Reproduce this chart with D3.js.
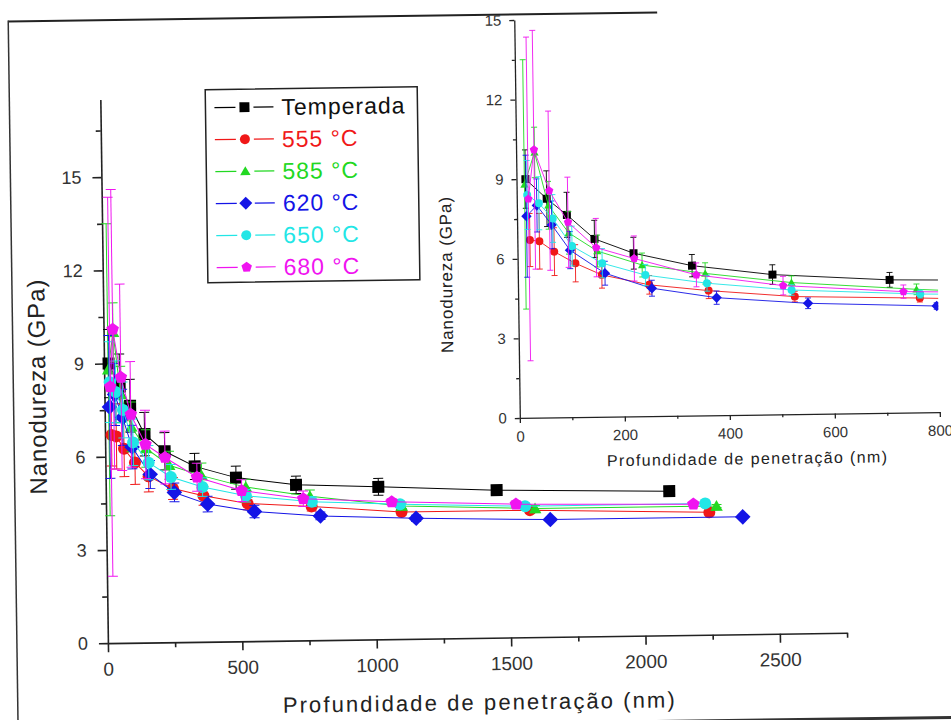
<!DOCTYPE html>
<html><head><meta charset="utf-8">
<script src="https://cdn.jsdelivr.net/npm/d3@7"></script>
<style>
body{margin:0;background:#fff}
svg{display:block}
text{font-family:"Liberation Sans",Arial,sans-serif}
</style>
</head><body>
<svg id="c" width="951" height="720"></svg>
<script>
// ---------- data ----------
const seriesNames = ["Temperada", "555 °C", "585 °C", "620 °C", "650 °C", "680 °C"];
const seriesColors = ["#000000", "#f01818", "#22d822", "#1414e6", "#22e6e6", "#f014f0"];
const seriesSymbols = ["square", "circle", "triangle", "diamond", "circle", "pentagon"];

const xTemperada = [17, 57, 95, 147, 221, 332, 485, 708, 1014, 1454, 2096];
const yTemperada = [9.0, 8.25, 7.63, 6.71, 6.15, 5.65, 5.27, 5.01, 4.91, 4.75, 4.64];
const eTemperada = [1.1, 1.05, 0.85, 0.7, 0.6, 0.42, 0.37, 0.28, 0.27, 0.15, 0.05];

const x555 = [24, 42, 70, 110, 160, 250, 363, 527, 765, 1099, 1577, 2244];
const y555 = [6.7, 6.65, 6.25, 5.8, 5.35, 4.95, 4.7, 4.43, 4.31, 4.09, 4.09, 3.94];
const e555 = [1.0, 1.05, 0.9, 0.7, 0.5, 0.35, 0.3, 0.2, 0.15, 0.1, 0.1, 0.05];

const x585 = [15, 35, 60, 98, 152, 237, 357, 521, 759, 1100, 1596, 2271];
const y585 = [8.8, 10.0, 8.0, 6.95, 6.25, 5.7, 5.35, 4.96, 4.64, 4.28, 4.14, 4.14];
const e585 = [4.7, 0.95, 0.9, 0.8, 0.6, 0.45, 0.4, 0.25, 0.2, 0.1, 0.1, 0.05];

const x620 = [18, 38, 66, 100, 166, 255, 378, 552, 797, 1153, 1652, 2368];
const y620 = [7.6, 8.0, 7.26, 6.3, 5.41, 4.82, 4.43, 4.17, 4.0, 3.88, 3.78, 3.78];
const e620 = [2.3, 1.0, 0.9, 0.7, 0.45, 0.3, 0.25, 0.2, 0.12, 0.1, 0.05, 0.05];

const x650 = [20, 42, 68, 104, 161, 243, 360, 521, 766, 1094, 1559, 2229];
const y650 = [8.4, 8.08, 7.5, 6.45, 5.79, 5.32, 4.98, 4.68, 4.46, 4.34, 4.22, 4.23];
const e650 = [1.3, 1.0, 0.9, 0.75, 0.55, 0.4, 0.3, 0.2, 0.15, 0.1, 0.1, 0.05];

const x680 = [22, 34, 62, 97, 150, 222, 340, 505, 734, 1063, 1525, 2185];
const y680 = [8.25, 10.1, 8.55, 7.35, 6.38, 5.95, 5.3, 4.85, 4.56, 4.42, 4.29, 4.21];
const e680 = [6.1, 4.5, 3.0, 1.7, 1.1, 0.85, 0.45, 0.35, 0.25, 0.1, 0.1, 0.05];

const mainXTicks = [0, 500, 1000, 1500, 2000, 2500];
const mainXMinor = [250, 750, 1250, 1750, 2250, 2750];
const mainYTicks = [0, 3, 6, 9, 12, 15];
const mainYMinor = [1.5, 4.5, 7.5, 10.5, 13.5, 16.5];
const insetXTicks = [0, 200, 400, 600, 800];
const insetXMinor = [100, 300, 500, 700];
const insetYTicks = [0, 3, 6, 9, 12, 15];
const insetYMinor = [1.5, 4.5, 7.5, 10.5, 13.5];

const xTitle = "Profundidade de penetração (nm)";
const yTitle = "Nanodureza (GPa)";

const seriesX = [xTemperada, x555, x585, x620, x650, x680];
const seriesY = [yTemperada, y555, y585, y620, y650, y680];
const seriesE = [eTemperada, e555, e585, e620, e650, e680];
const series = seriesNames.map((n, i) => ({
  name: n, color: seriesColors[i], sym: seriesSymbols[i],
  pts: seriesX[i].map((x, j) => ({x, y: seriesY[i][j], e: seriesE[i][j]}))
}));

// ---------- helpers ----------
function poly(angles, r, dy) {
  return "M" + angles.map(a => {
    const t = a * Math.PI / 180;
    return (r * Math.cos(t)).toFixed(2) + "," + (r * Math.sin(t) + (dy || 0)).toFixed(2);
  }).join("L") + "Z";
}
function markerPath(t, r) {
  switch (t) {
    case "square": return `M${-r},${-r}h${2*r}v${2*r}h${-2*r}Z`;
    case "circle": return `M${r},0A${r},${r} 0 1,1 ${-r},0A${r},${r} 0 1,1 ${r},0Z`;
    case "triangle": return poly([-90, 30, 150], r * 1.2, r * 0.2);
    case "diamond": return poly([-90, 0, 90, 180], r * 1.3);
    case "pentagon": return poly([-90, -18, 54, 126, 198], r * 1.1);
  }
}
const fmt = d => String(d);

const svg = d3.select("#c");
const root = svg.append("g").attr("transform", "rotate(-0.8, 475, 360)");

// page edges of the scan
root.append("line").attr("x1", 13).attr("x2", 662).attr("y1", 15).attr("y2", 15)
  .attr("stroke", "#222").attr("stroke-width", 2);
root.append("line").attr("x1", 13).attr("x2", 13).attr("y1", 14).attr("y2", 730)
  .attr("stroke", "#333").attr("stroke-width", 1.5);
root.append("line").attr("x1", 470).attr("x2", 970).attr("y1", 724).attr("y2", 724)
  .attr("stroke", "#333").attr("stroke-width", 3);

function drawPlot(g, cfg) {
  const x = d3.scaleLinear().domain(cfg.xDom).range(cfg.xRange);
  const y = d3.scaleLinear().domain(cfg.yDom).range(cfg.yRange);
  const x0 = cfg.xRange[0], y0 = cfg.yRange[0];

  // minor ticks
  g.append("g").attr("transform", `translate(0,${y0})`)
    .call(d3.axisBottom(x).tickValues(cfg.xMinor).tickSize(cfg.minorLen).tickSizeOuter(0).tickFormat(""))
    .call(s => s.select(".domain").remove())
    .call(s => s.selectAll("line").attr("stroke", "#222").attr("stroke-width", cfg.axisW));
  g.append("g").attr("transform", `translate(${x0},0)`)
    .call(d3.axisLeft(y).tickValues(cfg.yMinor).tickSize(cfg.minorLen).tickSizeOuter(0).tickFormat(""))
    .call(s => s.select(".domain").remove())
    .call(s => s.selectAll("line").attr("stroke", "#222").attr("stroke-width", cfg.axisW));

  // major axes
  const ax = g.append("g").attr("transform", `translate(0,${y0})`)
    .call(d3.axisBottom(x).tickValues(cfg.xTicks).tickFormat(fmt).tickSize(cfg.majorLen).tickSizeOuter(0).tickPadding(cfg.xPad));
  const ay = g.append("g").attr("transform", `translate(${x0},0)`)
    .call(d3.axisLeft(y).tickValues(cfg.yTicks).tickFormat(fmt).tickSize(cfg.majorLen).tickSizeOuter(0).tickPadding(cfg.yPad));
  [ax, ay].forEach(a => {
    a.select(".domain").attr("stroke", "#222").attr("stroke-width", cfg.axisW);
    a.selectAll("line").attr("stroke", "#222").attr("stroke-width", cfg.axisW);
    a.selectAll("text").attr("fill", "#333").attr("font-size", cfg.tickFont)
      .attr("font-family", "Liberation Sans, Arial, sans-serif");
  });
  ay.selectAll("text").attr("font-size", cfg.yTickFont);

  // data
  let dg = g.append("g");
  if (cfg.clip) {
    const id = "clip" + cfg.clip;
    g.append("clipPath").attr("id", id).append("rect")
      .attr("x", x0).attr("y", cfg.yRange[1] - 5)
      .attr("width", cfg.xRange[1] - x0).attr("height", y0 - cfg.yRange[1] + 5);
    dg.attr("clip-path", `url(#${id})`);
  }
  const line = d3.line().x(d => x(d.x)).y(d => y(d.y));
  series.forEach(s => {
    const sg = dg.append("g");
    sg.append("path").attr("d", line(s.pts)).attr("fill", "none")
      .attr("stroke", s.color).attr("stroke-width", cfg.lineW);
    const eb = sg.selectAll(".eb").data(s.pts).enter().append("g");
    eb.append("line").attr("x1", d => x(d.x)).attr("x2", d => x(d.x))
      .attr("y1", d => y(d.y - d.e)).attr("y2", d => y(d.y + d.e))
      .attr("stroke", s.color).attr("stroke-width", cfg.lineW);
    [1, -1].forEach(sgn => {
      eb.append("line").attr("x1", d => x(d.x) - cfg.cap).attr("x2", d => x(d.x) + cfg.cap)
        .attr("y1", d => y(d.y + sgn * d.e)).attr("y2", d => y(d.y + sgn * d.e))
        .attr("stroke", s.color).attr("stroke-width", cfg.lineW);
    });
    sg.selectAll(".m").data(s.pts).enter().append("path")
      .attr("d", markerPath(s.sym, cfg.markR))
      .attr("transform", d => `translate(${x(d.x)},${y(d.y)})`)
      .attr("fill", s.color);
  });

  // titles
  g.append("text").attr("x", cfg.xTitle[0]).attr("y", cfg.xTitle[1])
    .attr("text-anchor", "middle").attr("font-size", cfg.xTitleFont).attr("fill", "#222")
    .attr("textLength", cfg.xTitleLen).attr("lengthAdjust", "spacing").text(xTitle);
  g.append("text").attr("transform", `translate(${cfg.yTitle[0]},${cfg.yTitle[1]}) rotate(-90)`)
    .attr("text-anchor", "middle").attr("dy", "0.36em").attr("font-size", cfg.yTitleFont).attr("fill", "#222")
    .attr("textLength", cfg.yTitleLen).attr("lengthAdjust", "spacing").text(yTitle);
}

// main chart
drawPlot(root.append("g"), {
  xDom: [0, 2750], xRange: [104, 843.2], yDom: [0, 17.5], yRange: [638, 94.3],
  xTicks: mainXTicks, xMinor: mainXMinor, yTicks: mainYTicks, yMinor: mainYMinor,
  majorLen: 9, minorLen: 5, xPad: 10, yPad: 11, axisW: 1.6, tickFont: 19, yTickFont: 18,
  lineW: 1, cap: 5, markR: 6,
  xTitle: [474, 710], xTitleLen: 392, xTitleFont: 22,
  yTitle: [36.6, 381], yTitleLen: 215, yTitleFont: 24
});

// inset chart
drawPlot(root.append("g"), {
  xDom: [0, 800], xRange: [519, 939], yDom: [0, 15], yRange: [418.6, 20.6],
  xTicks: insetXTicks, xMinor: insetXMinor, yTicks: insetYTicks, yMinor: insetYMinor,
  majorLen: 5, minorLen: 3, xPad: 8, yPad: 8, axisW: 1.3, tickFont: 15, yTickFont: 15,
  lineW: 0.9, cap: 3, markR: 4, clip: "inset",
  xTitle: [745.6, 468], xTitleLen: 280, xTitleFont: 16,
  yTitle: [447.2, 274.6], yTitleLen: 156, yTitleFont: 17
});

// legend
const lg = root.append("g");
lg.append("rect").attr("x", 209).attr("y", 86).attr("width", 212).attr("height", 193)
  .attr("fill", "#fff").attr("stroke", "#222").attr("stroke-width", 1.5);
series.forEach((s, i) => {
  const cy = 104 + 32 * i;
  lg.append("line").attr("x1", 218).attr("x2", 239).attr("y1", cy).attr("y2", cy)
    .attr("stroke", s.color).attr("stroke-width", 1.2);
  lg.append("line").attr("x1", 257).attr("x2", 277).attr("y1", cy).attr("y2", cy)
    .attr("stroke", s.color).attr("stroke-width", 1.2);
  lg.append("path").attr("d", markerPath(s.sym, 5)).attr("transform", `translate(248,${cy})`)
    .attr("fill", s.color);
  lg.append("text").attr("x", 285).attr("y", cy).attr("dy", "0.36em")
    .attr("font-size", 23).attr("letter-spacing", 1).attr("fill", i === 0 ? "#111" : s.color)
    .text(s.name);
});
</script>
</body></html>
